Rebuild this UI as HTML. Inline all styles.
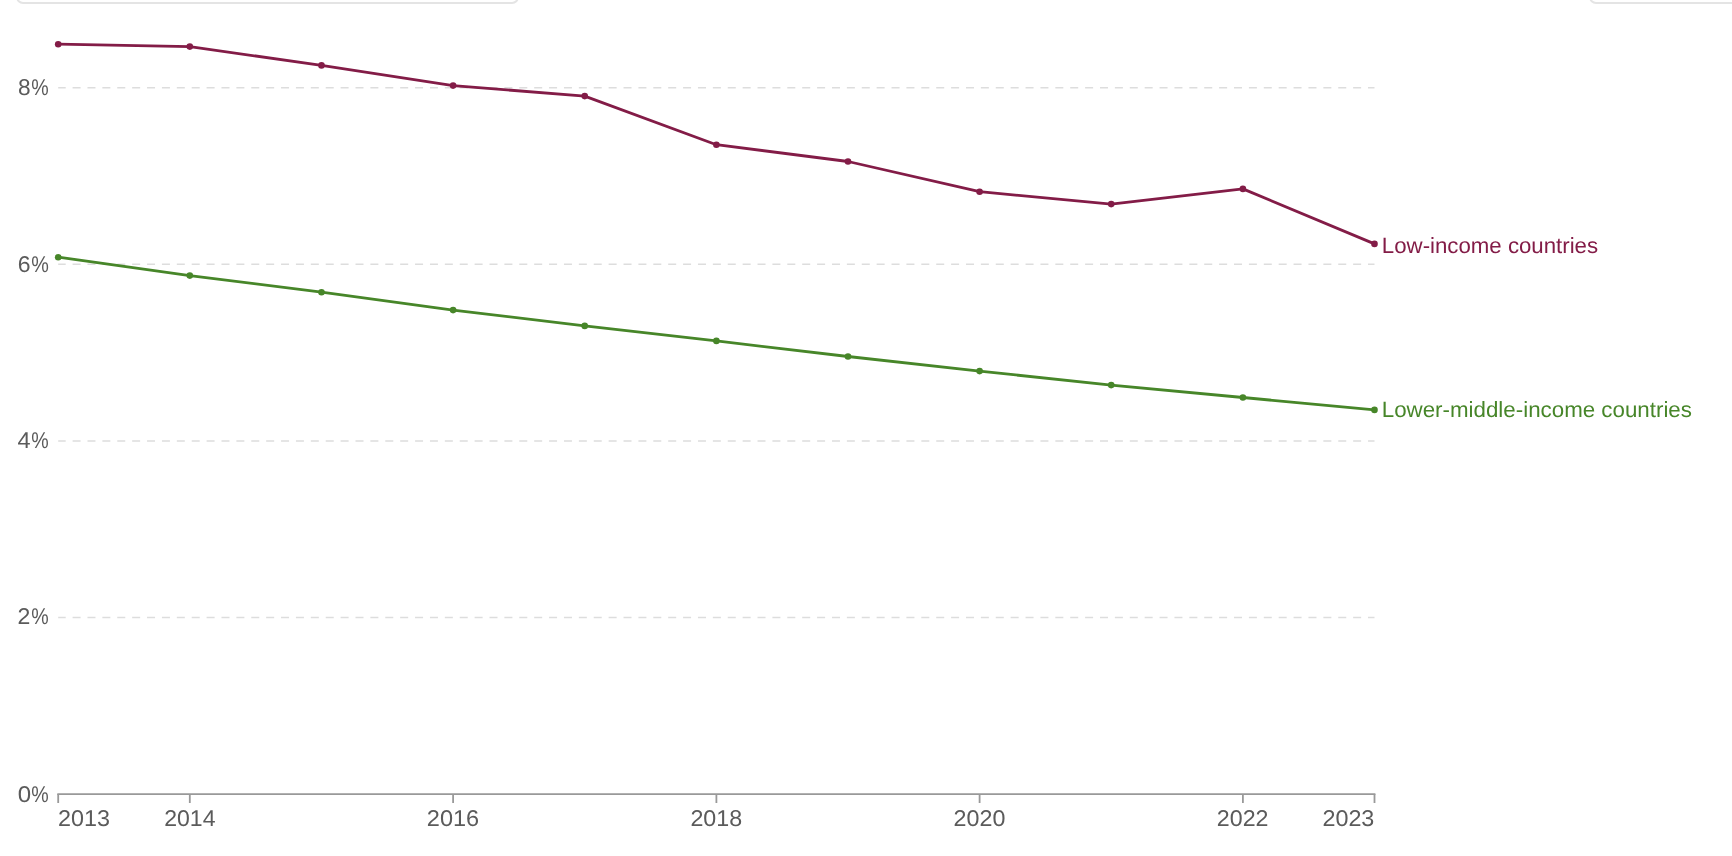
<!DOCTYPE html>
<html><head><meta charset="utf-8"><style>
html,body{margin:0;padding:0;background:#fff;width:1732px;height:856px;overflow:hidden}
.box{position:absolute;box-sizing:border-box;border:2px solid #e4e4e4;border-radius:7px;background:#fff}
svg{position:absolute;left:0;top:0;will-change:transform;font-family:"Liberation Sans", sans-serif;text-rendering:geometricPrecision}
</style></head><body>
<div class="box" style="left:15.5px;top:-40px;width:503px;height:43.7px"></div>
<div class="box" style="left:1589px;top:-40px;width:160px;height:43.7px"></div>
<svg width="1732" height="856" viewBox="0 0 1732 856">
<line x1="58.2" y1="617.5" x2="1374.5" y2="617.5" stroke="#dddddd" stroke-width="1.5" stroke-dasharray="8,6.89" stroke-dashoffset="0.5"/>
<line x1="58.2" y1="440.9" x2="1374.5" y2="440.9" stroke="#dddddd" stroke-width="1.5" stroke-dasharray="8,6.89" stroke-dashoffset="0.5"/>
<line x1="58.2" y1="264.3" x2="1374.5" y2="264.3" stroke="#dddddd" stroke-width="1.5" stroke-dasharray="8,6.89" stroke-dashoffset="0.5"/>
<line x1="58.2" y1="87.7" x2="1374.5" y2="87.7" stroke="#dddddd" stroke-width="1.5" stroke-dasharray="8,6.89" stroke-dashoffset="0.5"/>
<text x="17.65" y="801.51" fill="#5b5b5b" font-size="22.8" textLength="13.39" lengthAdjust="spacingAndGlyphs">0</text>
<text x="31.18" y="801.51" fill="#5b5b5b" font-size="22.8" textLength="17.45" lengthAdjust="spacingAndGlyphs">%</text>
<text x="17.57" y="624.40" fill="#5b5b5b" font-size="22.8" textLength="12.84" lengthAdjust="spacingAndGlyphs">2</text>
<text x="31.18" y="624.40" fill="#5b5b5b" font-size="22.8" textLength="17.45" lengthAdjust="spacingAndGlyphs">%</text>
<text x="17.63" y="448.20" fill="#5b5b5b" font-size="22.8" textLength="13.07" lengthAdjust="spacingAndGlyphs">4</text>
<text x="31.18" y="448.20" fill="#5b5b5b" font-size="22.8" textLength="17.45" lengthAdjust="spacingAndGlyphs">%</text>
<text x="17.75" y="272.00" fill="#5b5b5b" font-size="22.8" textLength="12.80" lengthAdjust="spacingAndGlyphs">6</text>
<text x="31.16" y="272.00" fill="#5b5b5b" font-size="22.8" textLength="17.61" lengthAdjust="spacingAndGlyphs">%</text>
<text x="17.90" y="95.48" fill="#5b5b5b" font-size="22.8" textLength="12.60" lengthAdjust="spacingAndGlyphs">8</text>
<text x="31.18" y="95.48" fill="#5b5b5b" font-size="22.8" textLength="17.45" lengthAdjust="spacingAndGlyphs">%</text>
<line x1="57.3" y1="794.1" x2="1375.4" y2="794.1" stroke="#999999" stroke-width="1.8"/>
<line x1="58.2" y1="794" x2="58.2" y2="803" stroke="#999999" stroke-width="1.8"/>
<line x1="189.8" y1="794" x2="189.8" y2="803" stroke="#999999" stroke-width="1.8"/>
<line x1="453.1" y1="794" x2="453.1" y2="803" stroke="#999999" stroke-width="1.8"/>
<line x1="716.4" y1="794" x2="716.4" y2="803" stroke="#999999" stroke-width="1.8"/>
<line x1="979.6" y1="794" x2="979.6" y2="803" stroke="#999999" stroke-width="1.8"/>
<line x1="1242.9" y1="794" x2="1242.9" y2="803" stroke="#999999" stroke-width="1.8"/>
<line x1="1374.5" y1="794" x2="1374.5" y2="803" stroke="#999999" stroke-width="1.8"/>
<text x="57.91" y="825.70" fill="#5b5b5b" font-size="22.8" textLength="51.98" lengthAdjust="spacingAndGlyphs">2013</text>
<text x="164.23" y="825.75" fill="#5b5b5b" font-size="22.8" textLength="51.31" lengthAdjust="spacingAndGlyphs">2014</text>
<text x="426.86" y="825.75" fill="#5b5b5b" font-size="22.8" textLength="52.34" lengthAdjust="spacingAndGlyphs">2016</text>
<text x="690.44" y="825.72" fill="#5b5b5b" font-size="22.8" textLength="51.74" lengthAdjust="spacingAndGlyphs">2018</text>
<text x="953.54" y="825.78" fill="#5b5b5b" font-size="22.8" textLength="51.81" lengthAdjust="spacingAndGlyphs">2020</text>
<text x="1216.89" y="825.78" fill="#5b5b5b" font-size="22.8" textLength="51.66" lengthAdjust="spacingAndGlyphs">2022</text>
<text x="1322.40" y="825.70" fill="#5b5b5b" font-size="22.8" textLength="51.98" lengthAdjust="spacingAndGlyphs">2023</text>
<polyline points="58.2,257.2 189.8,275.6 321.5,292.2 453.1,310.1 584.7,325.9 716.4,340.9 848.0,356.5 979.6,371.1 1111.2,385.1 1242.9,397.5 1374.5,409.9" fill="none" stroke="#478629" stroke-width="2.8" stroke-linejoin="round"/><circle cx="58.2" cy="257.2" r="3.3" fill="#478629"/><circle cx="189.8" cy="275.6" r="3.3" fill="#478629"/><circle cx="321.5" cy="292.2" r="3.3" fill="#478629"/><circle cx="453.1" cy="310.1" r="3.3" fill="#478629"/><circle cx="584.7" cy="325.9" r="3.3" fill="#478629"/><circle cx="716.4" cy="340.9" r="3.3" fill="#478629"/><circle cx="848.0" cy="356.5" r="3.3" fill="#478629"/><circle cx="979.6" cy="371.1" r="3.3" fill="#478629"/><circle cx="1111.2" cy="385.1" r="3.3" fill="#478629"/><circle cx="1242.9" cy="397.5" r="3.3" fill="#478629"/><circle cx="1374.5" cy="409.9" r="3.3" fill="#478629"/>
<polyline points="58.2,44.2 189.8,46.6 321.5,65.4 453.1,85.6 584.7,96.1 716.4,144.7 848.0,161.5 979.6,191.7 1111.2,204.1 1242.9,188.9 1374.5,243.9" fill="none" stroke="#831c47" stroke-width="2.8" stroke-linejoin="round"/><circle cx="58.2" cy="44.2" r="3.3" fill="#831c47"/><circle cx="189.8" cy="46.6" r="3.3" fill="#831c47"/><circle cx="321.5" cy="65.4" r="3.3" fill="#831c47"/><circle cx="453.1" cy="85.6" r="3.3" fill="#831c47"/><circle cx="584.7" cy="96.1" r="3.3" fill="#831c47"/><circle cx="716.4" cy="144.7" r="3.3" fill="#831c47"/><circle cx="848.0" cy="161.5" r="3.3" fill="#831c47"/><circle cx="979.6" cy="191.7" r="3.3" fill="#831c47"/><circle cx="1111.2" cy="204.1" r="3.3" fill="#831c47"/><circle cx="1242.9" cy="188.9" r="3.3" fill="#831c47"/><circle cx="1374.5" cy="243.9" r="3.3" fill="#831c47"/>
<text x="1381.89" y="252.51" fill="#831c47" font-size="22.0" textLength="216.20" lengthAdjust="spacingAndGlyphs">Low-income countries</text>
<text x="1381.74" y="417.47" fill="#478629" font-size="22.0" textLength="310.22" lengthAdjust="spacingAndGlyphs">Lower-middle-income countries</text>
</svg>
</body></html>
